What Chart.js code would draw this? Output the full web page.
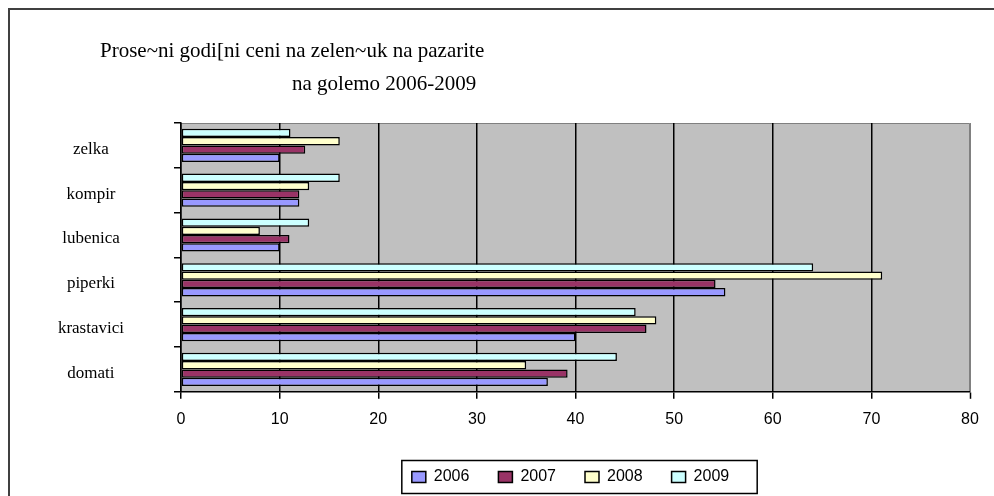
<!DOCTYPE html>
<html><head><meta charset="utf-8">
<script src="https://cdn.jsdelivr.net/npm/chart.js@4"></script>
<style>html,body{margin:0;padding:0;background:#fff;overflow:hidden}#wrap{width:994px;height:496px;position:relative}</style>
</head><body><div id="wrap"><canvas id="c" width="994" height="496"></canvas></div>
<script>
const titleLines = ['Prose~ni godi[ni ceni na zelen~uk na pazarite', 'na golemo 2006-2009'];
const categories = ['zelka', 'kompir', 'lubenica', 'piperki', 'krastavici', 'domati'];
const years = ['2006', '2007', '2008', '2009'];
const v2006 = [10, 12, 10, 55.2, 40, 37.2];
const v2007 = [12.6, 12, 11, 54.2, 47.2, 39.2];
const v2008 = [16.1, 13, 8, 71.1, 48.2, 35];
const v2009 = [11.1, 16.1, 13, 64.1, 46.1, 44.2];
const xMin = 0, xMax = 80, xStep = 10;
const colors = ['#9999FF', '#993366', '#FFFFCC', '#CCFFFF'];

const series = [v2006, v2007, v2008, v2009];
// top bar in each group is 2009, so datasets go 2009..2006 and legend is reversed
const datasets = [3, 2, 1, 0].map(i => ({
  label: years[i],
  data: series[i],
  backgroundColor: colors[i],
  borderColor: '#000',
  borderWidth: 1.5,
  borderSkipped: false,
  categoryPercentage: 0.74,
  barPercentage: 1.0
}));

const framePlugin = {
  id: 'framePlugin',
  afterLayout(chart) {
    // centre the legend under the plot area
    const lg = chart.legend;
    if (lg) {
      lg.left = chart.chartArea.left - 10;
      lg.right = chart.chartArea.right;
      lg.width = lg.right - lg.left;
    }
  },
  beforeDraw(chart) {
    const {ctx, chartArea: a} = chart;
    ctx.save();
    ctx.fillStyle = '#C0C0C0';
    ctx.fillRect(a.left, a.top, a.right - a.left, a.bottom - a.top);
    ctx.strokeStyle = '#808080';
    ctx.lineWidth = 1;
    ctx.beginPath();
    ctx.moveTo(a.left, a.top + 0.5);
    ctx.lineTo(a.right - 0.5, a.top + 0.5);
    ctx.lineTo(a.right - 0.5, a.bottom);
    ctx.stroke();
    ctx.restore();
  },
  afterDraw(chart) {
    const {ctx} = chart;
    ctx.save();
    // outer frame
    ctx.strokeStyle = '#404040';
    ctx.lineWidth = 2;
    ctx.beginPath();
    ctx.moveTo(9, 496);
    ctx.lineTo(9, 9);
    ctx.lineTo(994, 9);
    ctx.stroke();
    // title
    ctx.fillStyle = '#000';
    ctx.font = '21px "Liberation Serif", "Times New Roman", serif';
    ctx.textAlign = 'left';
    ctx.textBaseline = 'alphabetic';
    ctx.fillText(titleLines[0], 100, 57);
    ctx.fillText(titleLines[1], 292, 90);
    // legend border
    const lg = chart.legend;
    if (lg && lg.legendHitBoxes && lg.legendHitBoxes.length) {
      const hb = lg.legendHitBoxes;
      let l = Infinity, r = -Infinity, cy = 0;
      hb.forEach(h => { l = Math.min(l, h.left); r = Math.max(r, h.left + h.width); cy = h.top + h.height / 2; });
      ctx.strokeStyle = '#000';
      ctx.lineWidth = 1.5;
      ctx.strokeRect(l - 10, cy - 16.5, (r + 28) - (l - 10), 33);
    }
    ctx.restore();
  }
};

Chart.defaults.color = '#000';
new Chart(document.getElementById('c'), {
  type: 'bar',
  data: {labels: categories, datasets},
  options: {
    indexAxis: 'y',
    responsive: false,
    devicePixelRatio: 1,
    animation: false,
    layout: {padding: {left: 12, right: 24, top: 123, bottom: 1}},
    scales: {
      x: {
        min: xMin, max: xMax,
        ticks: {stepSize: xStep, padding: 11, font: {family: '"Liberation Sans", Arial, sans-serif', size: 16}, color: '#000'},
        grid: {
          color: c => (c.tick && c.tick.value === xMax) ? '#808080' : '#000',
          lineWidth: c => (c.tick && c.tick.value === xMax) ? 1 : 1.5,
          tickColor: '#000', tickLength: 7, tickWidth: 1.5
        },
        border: {color: '#000', width: 1.5}
      },
      y: {
        afterFit(scale) { scale.width = 169; },
        ticks: {crossAlign: 'center', padding: 50, labelOffset: 4, font: {family: '"Liberation Serif", "Times New Roman", serif', size: 17}, color: '#000'},
        grid: {offset: true, drawOnChartArea: false, color: '#000', tickLength: 7, lineWidth: 1.5},
        border: {color: '#000', width: 1.5}
      }
    },
    plugins: {
      legend: {
        position: 'bottom',
        reverse: true,
        labels: {boxWidth: 14, boxHeight: 11, padding: 29, font: {family: '"Liberation Sans", Arial, sans-serif', size: 16}, color: '#000'}
      },
      title: {display: false},
      tooltip: {enabled: false}
    }
  },
  plugins: [framePlugin]
});
</script>
</body></html>
